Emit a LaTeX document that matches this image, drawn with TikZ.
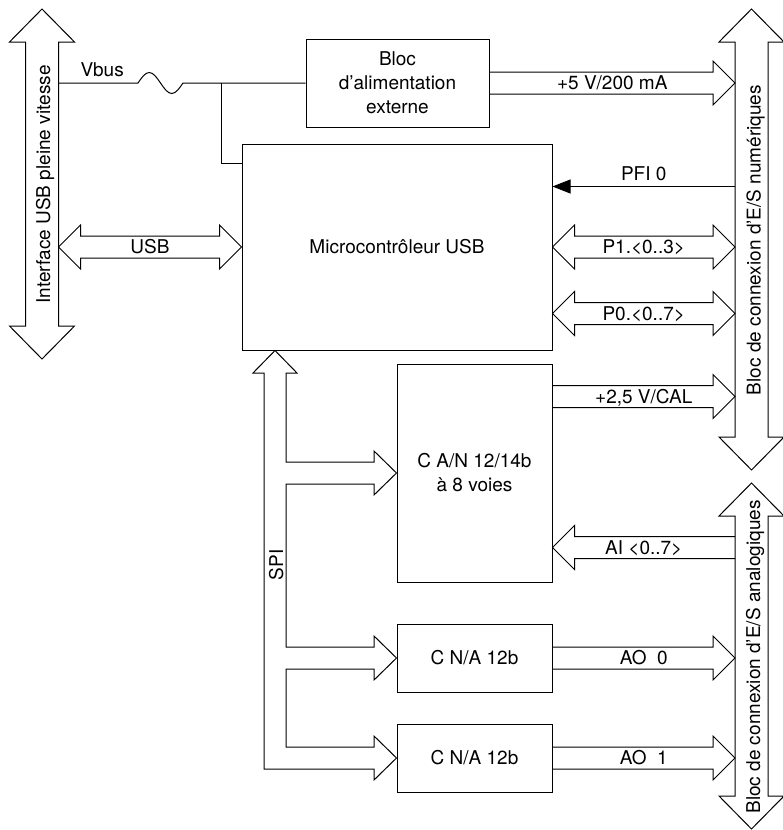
\documentclass[tikz,border=0pt]{standalone}
\usepackage{fontspec}
\setmainfont{TeX Gyre Heros}
\usetikzlibrary{calc,arrows.meta}

% flecha gruesa simple: #1 inicio, #2 punta, #3 sentido (1 o -1), #4 texto
\newcommand{\busflecha}[4]{%
  \draw ($(#1)+(0,-11)$) -- ($(#2)+({-22*#3},-11)$) -- ($(#2)+({-22*#3},-22)$) -- (#2)
    -- ($(#2)+({-22*#3},22)$) -- ($(#2)+({-22*#3},11)$) -- ($(#1)+(0,11)$);
  \node[etiq] at ($(#1)!0.5!(#2)$) {#4};}
% flecha gruesa doble: #1 punta izq, #2 punta der, #3 texto
\newcommand{\busdoble}[3]{%
  \draw (#1) -- ($(#1)+(22,-22)$) -- ($(#1)+(22,-11)$) -- ($(#2)+(-22,-11)$) -- ($(#2)+(-22,-22)$)
    -- (#2) -- ($(#2)+(-22,22)$) -- ($(#2)+(-22,11)$) -- ($(#1)+(22,11)$) -- ($(#1)+(22,22)$) -- cycle;
  \node[etiq] at ($(#1)!0.5!(#2)$) {#3};}
% barra vertical de conexion: #1 punta arriba, #2 punta abajo
\newcommand{\barra}[2]{%
  \draw (#1) -- ($(#1)+(32.5,33)$) -- ($(#1)+(16.5,33)$) -- ($(#2)+(16.5,-33)$) -- ($(#2)+(32.5,-33)$)
    -- (#2) -- ($(#2)+(-32.5,-33)$) -- ($(#2)+(-16.5,-33)$) -- ($(#1)+(-16.5,33)$) -- ($(#1)+(-32.5,33)$) -- cycle;}

\begin{document}
\begin{tikzpicture}[x=1pt, y=-1pt, line width=1pt,
  every node/.style={font=\fontsize{19}{24}\selectfont},
  caja/.style={draw, align=center, inner sep=0pt},
  etiq/.style={inner sep=0pt, text height=13.7pt, text depth=0pt}]
\useasboundingbox (0,0) rectangle (783,830);

\node[caja, minimum width=183, minimum height=88] (power) at (397.5,83) {Bloc\\d’alimentation\\externe}; % alimentacion
\node[caja, minimum width=310, minimum height=206] (micro) at (397,247) {Microcontrôleur USB}; % micro
\node[caja, minimum width=155, minimum height=218] (adc) at (474.5,473) {C A/N 12/14b\\à 8 voies}; % conversor A/N
\node[caja, minimum width=155, minimum height=68] (dac1) at (474.5,658) {C N/A 12b}; % conversor N/A 1
\node[caja, minimum width=155, minimum height=68] (dac2) at (474.5,758) {C N/A 12b}; % conversor N/A 2

\barra{42,9}{42,359} % barra USB
\barra{751.5,9}{751.5,470} % barra digital
\barra{751.5,483}{751.5,829} % barra analogica

\node[rotate=90, anchor=base] (tusb) at (50,184.5) {Interface USB pleine vitesse}; % texto barra USB
\node[rotate=90, anchor=base] (tdig) at (760.5,240) {Bloc de connexion d’E/S numériques}; % texto barra digital
\node[rotate=90, anchor=base] (tana) at (760,657) {Bloc de connexion d’E/S analogiques}; % texto barra analogica

\coordinate (usbR) at (58.5,0); % borde barra USB
\coordinate (digL) at (735,0); % borde barra digital
\coordinate (anaL) at (735,0); % borde barra analogica

\coordinate (vbusL) at (usbR |- power.west); % Vbus
\coordinate (nudo) at (221,83); % derivacion
\draw (vbusL) -- (138,83) sin (149.25,72.5) cos (160.5,83) sin (171.75,93.5) cos (183,83) -- (power.west); % fusible
\draw (nudo) |- (micro.west |- 0,163); % alimentacion micro
\node[etiq, anchor=south west] (vbus) at (80,76.5) {Vbus};

\coordinate (usba) at (usbR |- micro.west);
\busdoble{usba}{micro.west}{USB}

\coordinate (v5a) at (power.east);
\coordinate (v5b) at (digL |- power.east);
\busflecha{v5a}{v5b}{1}{+5 V/200 mA}

\coordinate (pfia) at (digL |- 0,186.5);
\coordinate (pfib) at (micro.east |- pfia);
\draw[-{Triangle[length=18pt,width=14pt]}] (pfia) -- (pfib); % PFI
\node[etiq, above=6pt] (pfi) at ($(pfia)!0.5!(pfib)$) {PFI 0};

\coordinate (p1b) at (digL |- micro.east);
\busdoble{micro.east}{p1b}{P1.<0..3>}
\coordinate (p0a) at (micro.east |- 0,313.5);
\coordinate (p0b) at (digL |- p0a);
\busdoble{p0a}{p0b}{P0.<0..7>}

\coordinate (cala) at (adc.east |- 0,396.5);
\coordinate (calb) at (digL |- cala);
\busflecha{cala}{calb}{1}{+2,5 V/CAL}

\coordinate (aia) at (anaL |- 0,547.5);
\coordinate (aib) at (adc.east |- aia);
\busflecha{aia}{aib}{-1}{AI <0..7>}

\coordinate (ao0b) at (anaL |- dac1.east);
\busflecha{dac1.east}{ao0b}{1}{AO\ \ 0}
\coordinate (ao1b) at (anaL |- dac2.east);
\busflecha{dac2.east}{ao1b}{1}{AO\ \ 1}

% bus SPI
\draw (micro.south -| 275,0) -- (297,373) -- (286,373) -- (286,462) -- (374,462) -- (374,451) -- (adc.west)
  -- (374,495) -- (374,484) -- (286,484) -- (286,647) -- (374,647) -- (374,636) -- (dac1.west)
  -- (374,680) -- (374,669) -- (286,669) -- (286,747) -- (374,747) -- (374,736) -- (dac2.west)
  -- (374,780) -- (374,769) -- (264,769) -- (264,373) -- (253,373) -- cycle;
\node[rotate=90, anchor=base] (spi) at (283,565) {SPI};

\end{tikzpicture}
\end{document}
